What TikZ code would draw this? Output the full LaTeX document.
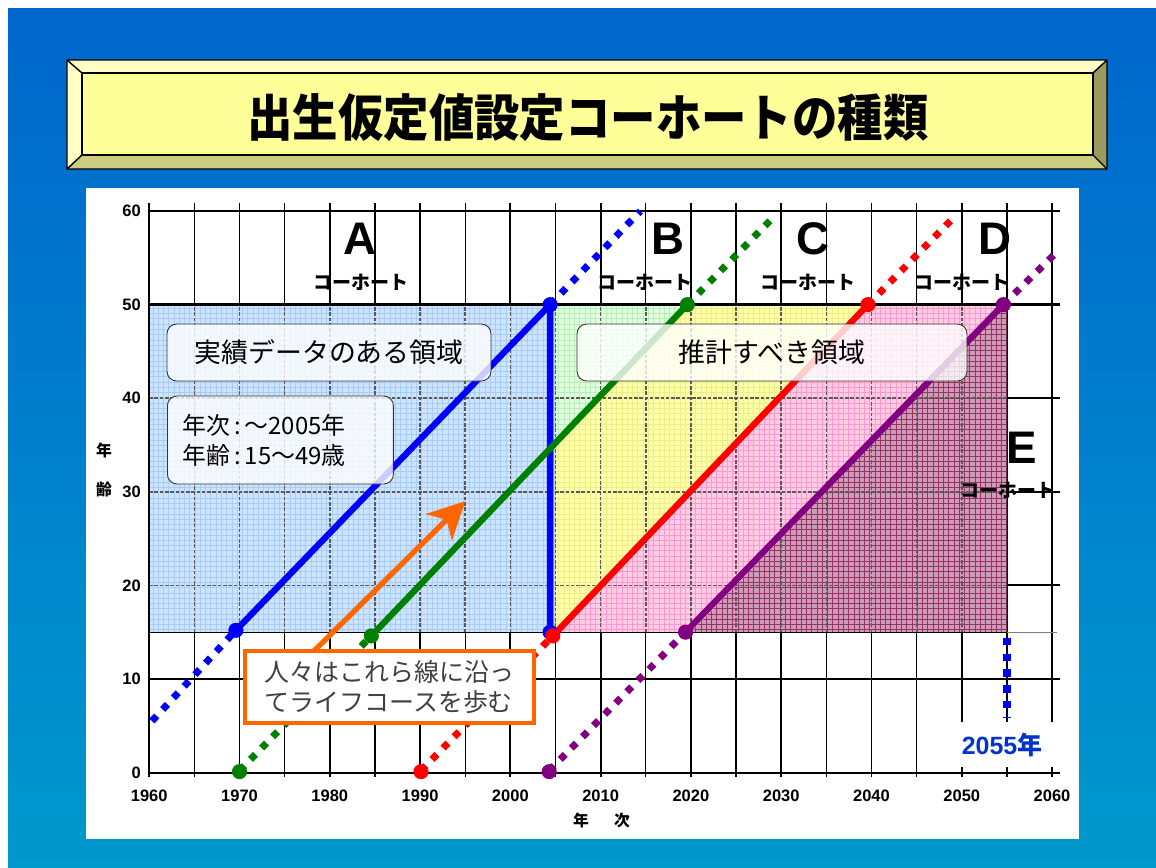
\documentclass[tikz,border=0pt]{standalone}
\usepackage{fontspec}
\setmainfont{Liberation Sans}
\newfontfamily\jp{Noto Sans CJK JP}
\usepackage{tikz}
\usetikzlibrary{patterns}
\usetikzlibrary{arrows.meta}
\definecolor{bgtop}{HTML}{0066CC}
\definecolor{bgbot}{HTML}{0099CC}
\definecolor{face}{HTML}{FFFF99}
\definecolor{bevlt}{HTML}{FFFFC4}
\definecolor{bevdk}{HTML}{CCCC7E}
\definecolor{bevrt}{HTML}{999960}
\definecolor{regA}{HTML}{CCE4FF}
\definecolor{gridA}{HTML}{A8CCF4}
\definecolor{regB}{HTML}{DFFFDF}
\definecolor{gridB}{HTML}{B8EEB8}
\definecolor{regC}{HTML}{FFFFAA}
\definecolor{gridC}{HTML}{EEEE88}
\definecolor{regD}{HTML}{FFCCE6}
\definecolor{gridD}{HTML}{FF99CC}
\definecolor{regE}{HTML}{CC9CB8}
\definecolor{gridE}{HTML}{993366}
\definecolor{cohG}{HTML}{008000}
\definecolor{cohP}{HTML}{800080}
\definecolor{arr}{HTML}{FF6600}
\definecolor{yrblue}{HTML}{0033CC}
\newcommand{\dotat}[2]{\fill[#1] #2 circle[radius=4.3pt];}

\begin{document}
\begin{tikzpicture}[x=0.02cm,y=-0.02cm,
    infobox/.style={draw=black!80,line width=0.5pt,rounded corners=5.5pt,fill=white,fill opacity=0.8,text opacity=1,inner sep=0pt},
    cohort/.style={line width=3.6pt},
    dotline/.style={line width=4pt,dash pattern=on 4pt off 5pt},
    region/.style 2 args={fill=#1,postaction={pattern=grid,pattern color=#2}},
    ticklbl/.style={font=\bfseries\fontsize{9.4}{11}\selectfont,inner sep=0pt},
    big/.style={font=\bfseries\fontsize{26}{28}\selectfont,inner sep=0pt},
    kohort/.style={font=\jp\bfseries\fontsize{10.8}{12}\selectfont,inner sep=0pt}]
  \useasboundingbox (0,0) rectangle (1156,867);
  \fill[white] (0,0) rectangle (1156,867);
  \shade[top color=bgtop,bottom color=bgbot] (8,8) rectangle (1156,867);

  % title plate
  \fill[bevlt] (67,60) -- (1107,60) -- (1093,73) -- (82,73) -- cycle;
  \fill[bevlt] (67,60) -- (82,73) -- (82,155) -- (67,169) -- cycle;
  \fill[bevdk] (67,169) -- (82,155) -- (1093,155) -- (1107,169) -- cycle;
  \fill[bevrt] (1107,60) -- (1093,73) -- (1093,155) -- (1107,169) -- cycle;
  \draw[fill=face,line width=0.8pt] (82,73) rectangle (1093,155);
  \draw[line width=0.8pt] (67,60) rectangle (1107,169)
    (67,60) -- (82,73) (1107,60) -- (1093,73) (67,169) -- (82,155) (1107,169) -- (1093,155);
  \node[font=\jp\bfseries\fontsize{27.5}{30}\selectfont] (title) at (588,118) {\scalebox{0.94}[1.04]{出生仮定値設定コーホートの種類}};

  \fill[white] (86,188) rectangle (1079,839);

  \begin{scope}[shift={(-350.996cm,-15.454cm)},x=0.1806cm,y=0.1872cm]
    % grid
    \foreach \yy in {1960,1970,...,2060}
      \draw[line width=1.1pt] (\yy,-0.5) -- (\yy,60.9);
    \foreach \yy in {1965,1975,...,2055}
      \draw[line width=0.7pt] (\yy,-0.5) -- (\yy,60.9);
    \foreach \aa in {0,10,20,30,40}
      \draw[line width=1.2pt] (1960,\aa) -- (2060.9,\aa);

    % regions
    \path[region={regA}{gridA}] (1960,15) rectangle (2005,50);
    \path[region={regB}{gridB}] (2005,35) -- (2005,50) -- (2020,50) -- cycle;
    \path[region={regC}{gridC}] (2005,15) -- (2005,35) -- (2020,50) -- (2040,50) -- cycle;
    \path[region={regD}{gridD}] (2005,15) -- (2040,50) -- (2055,50) -- (2020,15) -- cycle;
    \path[region={regE}{gridE}] (2020,15) -- (2055,50) -- (2055,15) -- cycle;
    \begin{scope}
      \clip (1960,15) rectangle (2055,50);
      \foreach \yy in {1965,1970,...,2050}
        \draw[black!65,line width=0.9pt,dash pattern=on 2pt off 1pt] (\yy,15) -- (\yy,50);
      \foreach \aa in {20,30,40}
        \draw[black!65,line width=0.9pt,dash pattern=on 2pt off 1pt] (1960,\aa) -- (2055,\aa);
    \end{scope}
    \draw[gridE!80!black,line width=0.6pt] (2055,15) -- (2055,50);
    \draw[line width=0.6pt] (1960,15) -- (2055,15);
    \draw[black!50,line width=0.6pt] (2055,15) -- (2060.5,15);
    \draw[line width=1.2pt] (1960,0) -- (1960,60.9);
    \foreach \aa in {50,60}
      \draw[line width=1.6pt] (1960,\aa) -- (2060.9,\aa);

    % cohorts
    \draw[blue,dotline] (1960.3,5.5) -- (1969.6,15.2);
    \draw[blue,dotline] (2004.4,50) -- (2014.4,60);
    \draw[blue,cohort] (1969.6,15.2) -- (2004.4,50) -- (2004.4,15);
    \draw[cohG,dotline] (1970,0.2) -- (1984.6,14.6);
    \draw[cohG,dotline] (2019.6,50) -- (2029.4,59.6);
    \draw[cohG,cohort] (1984.6,14.6) -- (2019.6,50);
    \draw[red,dotline] (1990.1,0.2) -- (2004.7,14.6);
    \draw[red,dotline] (2039.6,50) -- (2049.4,59.6);
    \draw[red,cohort] (2004.7,14.6) -- (2039.6,50);
    \draw[cohP,dotline] (2004.3,0.2) -- (2019.4,15);
    \draw[cohP,dotline] (2054.6,50) -- (2060.5,55.6);
    \draw[cohP,cohort] (2019.4,15) -- (2054.6,50);
    \draw[blue,line width=4.2pt,dash pattern=on 4.2pt off 4.8pt] (2055,14.4) -- (2055,5.9);

    \dotat{blue}{(1969.6,15.2)}
    \dotat{blue}{(2004.4,50)}
    \dotat{blue}{(2004.4,15)}
    \dotat{cohG}{(1970,0.1)}
    \dotat{cohG}{(1984.6,14.6)}
    \dotat{cohG}{(2019.6,50)}
    \dotat{red}{(1990.1,0.1)}
    \dotat{red}{(2004.7,14.6)}
    \dotat{red}{(2039.6,50)}
    \dotat{cohP}{(2004.3,0.1)}
    \dotat{cohP}{(2019.4,15)}
    \dotat{cohP}{(2054.6,50)}

    % cohort names
    \node[big] (lblA) at (1983.3,57) {A};
    \node[kohort] (kohA) at (1983.5,52.4) {コーホート};
    \node[big] (lblB) at (2017.5,57) {B};
    \node[kohort] (kohB) at (2014.9,52.4) {コーホート};
    \node[big] (lblC) at (2033.5,57) {C};
    \node[kohort] (kohC) at (2033,52.4) {コーホート};
    \node[big] (lblD) at (2053.7,57) {D};
    \node[kohort] (kohD) at (2050,52.4) {コーホート};
    \node[big] (lblE) at (2056.6,34.7) {E};
    \node[kohort] (kohE) at (2055.1,30.2) {コーホート};

    % axes
    \foreach \aa in {0,10,...,60}
      \node[ticklbl,anchor=east] (ya\aa) at (1959.1,\aa) {\aa};
    \foreach \yy in {1960,1970,...,2060}
      \node[ticklbl] (xy\yy) at (\yy,-2.5) {\yy};
    \node[font=\jp\bfseries\fontsize{9}{10}\selectfont] (xlab) at (2010.1,-5.1) {年\hspace{1.6em}次};
    \node[font=\jp\bfseries\fontsize{9}{10}\selectfont] (ylab1) at (1955,34.4) {年};
    \node[font=\jp\bfseries\fontsize{9}{10}\selectfont] (ylab2) at (1955,30.2) {齢};

    % life course arrow
    \coordinate (arrTail) at (1977,11.8);
    \coordinate (arrHead) at (1995,29);
    \draw[arr,line width=3pt,-{Stealth[length=21pt,width=21pt,inset=6pt]}] (arrTail) -- (arrHead);
  \end{scope}

  % text boxes
  \node[infobox,minimum width=6.48cm,minimum height=1.14cm,font=\jp\fontsize{15.3}{18}\selectfont] (boxReal) at (329,352.5) {実績データのある領域};
  \node[infobox,anchor=west,minimum height=1.76cm,text width=3.92cm,inner xsep=0.3cm,align=left,font=\jp\fontsize{13.6}{17}\selectfont] (boxYears) at (167,440) {年次\,:\,～2005年\\年齢\,:\,15～49歳};
  \node[infobox,minimum width=7.8cm,minimum height=1.14cm,font=\jp\fontsize{15.3}{18}\selectfont] (boxEst) at (772,352.5) {推計すべき領域};
  \node[draw=arr,line width=2.2pt,fill=white,minimum width=5.78cm,minimum height=1.43cm,align=left,text=black!75,font=\jp\fontsize{14.2}{17}\selectfont] (boxLife) at (389.4,686.9) {人々はこれら線に沿っ\\てライフコースを歩む};
  \node[fill=white,minimum width=2.2cm,minimum height=0.9cm,text=yrblue,font=\bfseries\fontsize{14.2}{16}\selectfont] (yr2055) at (1002,744.5) {2055{\jp 年}};
\end{tikzpicture}
\end{document}
